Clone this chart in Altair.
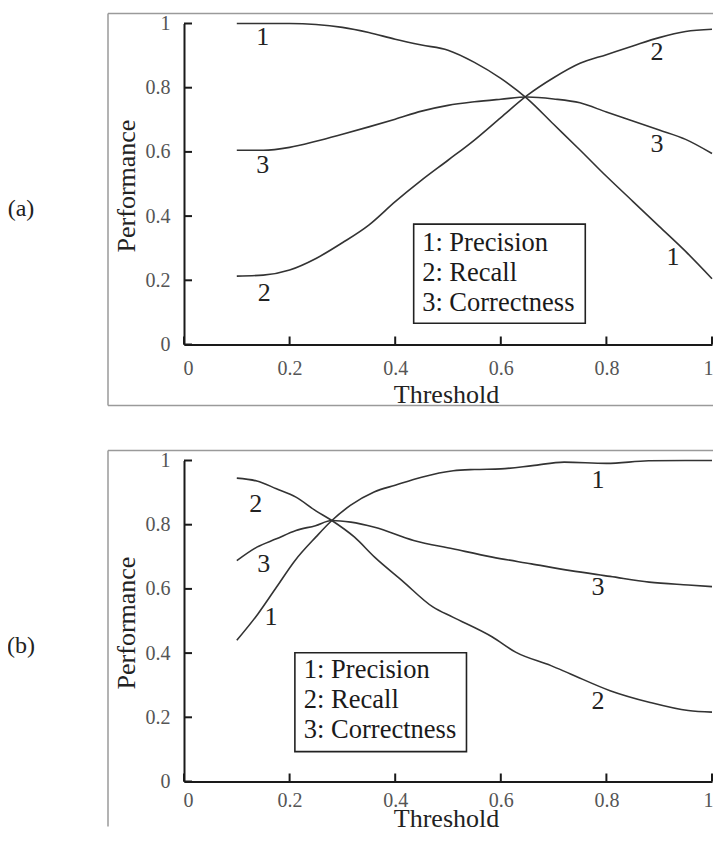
import altair as alt
import pandas as pd

SERIF = "Liberation Serif"
W, H = 528, 321

series_names = ["1: Precision", "2: Recall", "3: Correctness"]
x_ticks = [0, 0.2, 0.4, 0.6, 0.8, 1]
y_ticks = [0, 0.2, 0.4, 0.6, 0.8, 1]

# ---------------- panel (a) ----------------
x_a = [0.10, 0.15, 0.20, 0.25, 0.30, 0.35, 0.40, 0.45, 0.50, 0.55,
       0.60, 0.65, 0.70, 0.75, 0.80, 0.85, 0.90, 0.95, 1.00]
prec_a = [1.000, 1.000, 1.000, 0.997, 0.988, 0.972, 0.951, 0.933, 0.917, 0.879,
          0.829, 0.766, 0.686, 0.606, 0.524, 0.446, 0.368, 0.290, 0.205]
rec_a = [0.213, 0.216, 0.232, 0.268, 0.317, 0.372, 0.445, 0.512, 0.574, 0.637,
         0.707, 0.776, 0.831, 0.876, 0.903, 0.930, 0.956, 0.975, 0.982]
corr_a = [0.605, 0.605, 0.614, 0.633, 0.655, 0.678, 0.702, 0.727, 0.745, 0.756,
          0.764, 0.771, 0.765, 0.753, 0.724, 0.696, 0.668, 0.639, 0.595]
lab_a_text = ["1", "3", "2", "2", "3", "1"]
lab_a_x = [0.149, 0.149, 0.152, 0.896, 0.896, 0.926]
lab_a_y = [0.958, 0.559, 0.159, 0.912, 0.626, 0.273]
leg_a_x = [0.451, 0.451, 0.451]
leg_a_y = [0.316, 0.223, 0.130]
leg_a_box = {"x": 0.435, "x2": 0.760, "y": 0.066, "y2": 0.375}

# ---------------- panel (b) ----------------
prec_b_x = [0.10, 0.14, 0.175, 0.21, 0.25, 0.28, 0.315, 0.36, 0.40, 0.45,
            0.51, 0.55, 0.60, 0.66, 0.72, 0.80, 0.88, 0.95, 1.00]
prec_b = [0.440, 0.522, 0.605, 0.688, 0.762, 0.813, 0.860, 0.902, 0.923, 0.948,
          0.968, 0.972, 0.974, 0.984, 0.995, 0.991, 0.999, 1.000, 1.000]
rec_b_x = [0.10, 0.138, 0.175, 0.212, 0.249, 0.28, 0.323, 0.361, 0.413, 0.472,
           0.509, 0.584, 0.628, 0.695, 0.732, 0.807, 0.881, 0.955, 1.00]
rec_b = [0.945, 0.936, 0.912, 0.886, 0.844, 0.813, 0.761, 0.699, 0.626, 0.543,
         0.512, 0.450, 0.403, 0.361, 0.335, 0.283, 0.247, 0.221, 0.216]
corr_b_x = [0.10, 0.138, 0.175, 0.212, 0.249, 0.28, 0.316, 0.361, 0.435, 0.509,
            0.584, 0.658, 0.732, 0.807, 0.881, 0.955, 1.00]
corr_b = [0.688, 0.730, 0.756, 0.782, 0.797, 0.813, 0.808, 0.792, 0.751, 0.725,
          0.699, 0.678, 0.657, 0.639, 0.621, 0.612, 0.607]
lab_b_text = ["2", "3", "1", "1", "3", "2"]
lab_b_x = [0.136, 0.151, 0.165, 0.784, 0.784, 0.784]
lab_b_y = [0.865, 0.678, 0.512, 0.938, 0.605, 0.252]
leg_b_x = [0.227, 0.227, 0.227]
leg_b_y = [0.347, 0.253, 0.160]
leg_b_box = {"x": 0.210, "x2": 0.535, "y": 0.093, "y2": 0.401}


def panel(xs_list, ys_list, lab_text, lab_x, lab_y, leg_x, leg_y, leg_box,
          tag, title_y, label_pad, frame_bottom, closed):
    rows = []
    for name, xs, ys in zip(series_names, xs_list, ys_list):
        for xv, yv in zip(xs, ys):
            rows.append({"series": name, "t": xv, "p": yv})
    df = pd.DataFrame(rows)

    xscale = alt.Scale(domain=[0, 1], nice=False, zero=False)
    yscale = alt.Scale(domain=[0, 1], nice=False, zero=False)

    x_axis = alt.Axis(values=x_ticks, format="~g", ticks=False, grid=False,
                      domainColor="#1a1a1a", domainWidth=2,
                      labelFont=SERIF, labelFontSize=20, labelColor="#555",
                      labelPadding=label_pad, labelFlush=True, labelFlushOffset=1,
                      title="Threshold", titleFont=SERIF, titleFontSize=26,
                      titleFontWeight="normal", titleColor="#222",
                      titleX=W / 2 - 2, titleY=title_y, titleBaseline="alphabetic")
    y_axis = alt.Axis(values=y_ticks, format="~g", ticks=False, grid=False,
                      domainColor="#1a1a1a", domainWidth=2,
                      labelFont=SERIF, labelFontSize=20, labelColor="#555",
                      labelPadding=14,
                      title="Performance", titleFont=SERIF, titleFontSize=26,
                      titleFontWeight="normal", titleColor="#222",
                      titleX=-58, titleY=162, titleBaseline="middle",
                      titleAngle=270)

    one = pd.DataFrame({"k": [0]})
    frame_style = dict(color="#9a9a9a", strokeWidth=1.5)
    frame_layers = [
        alt.Chart(one).mark_rule(**frame_style).encode(
            x=alt.value(-76), x2=alt.value(W + 1), y=alt.value(-10)),
        alt.Chart(one).mark_rule(**frame_style).encode(
            x=alt.value(-76), y=alt.value(-10), y2=alt.value(frame_bottom)),
    ]
    if closed:
        frame_layers.append(alt.Chart(one).mark_rule(**frame_style).encode(
            x=alt.value(-76), x2=alt.value(W + 1), y=alt.value(frame_bottom)))

    lines = alt.Chart(df).mark_line(strokeWidth=1.6, color="#333333",
                                    interpolate="monotone").encode(
        x=alt.X("t:Q", scale=xscale, axis=x_axis),
        y=alt.Y("p:Q", scale=yscale, axis=y_axis),
        detail="series:N",
    )

    xt = alt.Chart(pd.DataFrame({"t": x_ticks})).mark_rule(
        color="#1a1a1a", strokeWidth=2).encode(
        x=alt.X("t:Q", scale=xscale), y=alt.value(H), y2=alt.value(H - 8))
    yt = alt.Chart(pd.DataFrame({"p": y_ticks})).mark_rule(
        color="#1a1a1a", strokeWidth=2).encode(
        y=alt.Y("p:Q", scale=yscale), x=alt.value(0), x2=alt.value(8))

    labels = alt.Chart(pd.DataFrame({"t": lab_x, "p": lab_y, "s": lab_text})).mark_text(
        font=SERIF, fontSize=26, color="#222", align="center", baseline="middle"
    ).encode(x=alt.X("t:Q", scale=xscale), y=alt.Y("p:Q", scale=yscale), text="s:N")

    box = alt.Chart(pd.DataFrame([leg_box])).mark_rect(
        filled=False, stroke="#222", strokeWidth=1.6
    ).encode(x=alt.X("x:Q", scale=xscale), x2="x2:Q",
             y=alt.Y("y:Q", scale=yscale), y2="y2:Q")
    leg_text = alt.Chart(pd.DataFrame({"t": leg_x, "p": leg_y, "s": series_names})).mark_text(
        font=SERIF, fontSize=26.5, color="#1a1a1a", align="left", baseline="middle"
    ).encode(x=alt.X("t:Q", scale=xscale), y=alt.Y("p:Q", scale=yscale), text="s:N")

    tag_mark = alt.Chart(pd.DataFrame({"s": [tag]})).mark_text(
        font=SERIF, fontSize=24, color="#222", align="center", baseline="middle"
    ).encode(x=alt.value(-163), y=alt.value(185), text="s:N")

    return alt.layer(*frame_layers, lines, xt, yt, labels, box, leg_text,
                     tag_mark).properties(width=W, height=H)


panel_a = panel([x_a, x_a, x_a], [prec_a, rec_a, corr_a],
                lab_a_text, lab_a_x, lab_a_y, leg_a_x, leg_a_y, leg_a_box,
                "(a)", 58, 14, H + 61, True)
panel_b = panel([prec_b_x, rec_b_x, corr_b_x], [prec_b, rec_b, corr_b],
                lab_b_text, lab_b_x, lab_b_y, leg_b_x, leg_b_y, leg_b_box,
                "(b)", 44.5, 9, H + 45, False)

chart = alt.vconcat(panel_a, panel_b, spacing=42).properties(
    padding={"left": -1, "top": 4.5, "right": 0, "bottom": -5}
).configure_view(strokeWidth=0)

chart.save("out.html", embed_options={"renderer": "svg", "actions": False})
